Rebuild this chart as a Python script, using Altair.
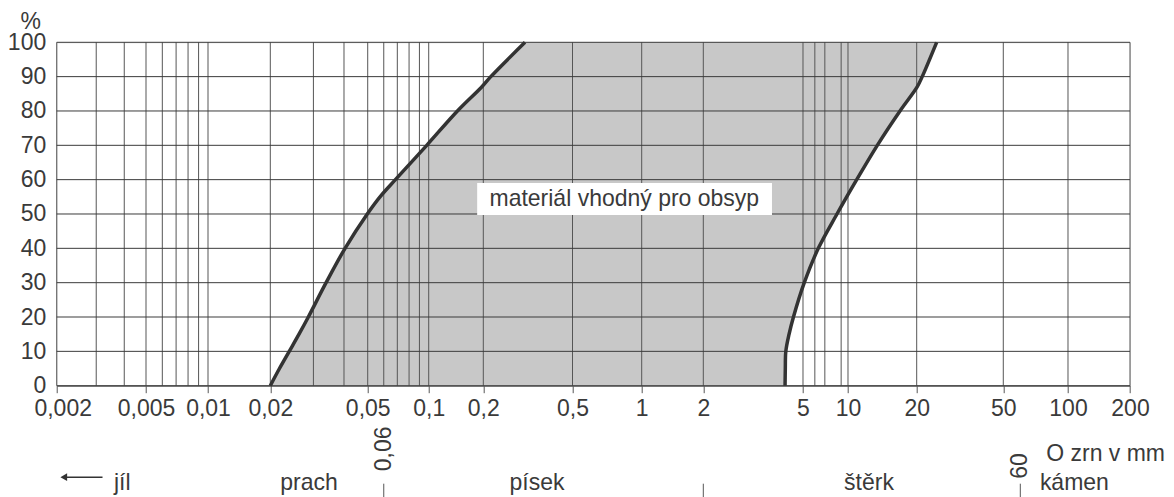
import altair as alt
import pandas as pd

# ---- data ----
pct_levels   = [0, 5, 10, 15, 20, 30, 40, 50, 55, 60, 70, 80, 87, 90, 100]
fine_limit   = [0.02, 0.0218, 0.0239, 0.0262, 0.0286, 0.0338, 0.0404, 0.0498, 0.0575, 0.0685, 0.0978, 0.1440, 0.196, 0.216, 0.307]
coarse_limit = [4.24, 4.25, 4.27, 4.40, 4.58, 5.10, 6.33, 8.44, 9.80, 10.92, 13.44, 16.9, 20.1, 21.2, 24.7]

x_ticks       = [0.002, 0.005, 0.01, 0.02, 0.05, 0.1, 0.2, 0.5, 1, 2, 5, 10, 20, 50, 100, 200]
x_tick_labels = ["0,002", "0,005", "0,01", "0,02", "0,05", "0,1", "0,2", "0,5", "1", "2", "5", "10", "20", "50", "100", "200"]
x_minor       = [0.003, 0.004, 0.006, 0.007, 0.008, 0.009, 0.03, 0.04, 0.06, 0.07, 0.08, 0.09, 6, 7, 9]
y_ticks       = [0, 10, 20, 30, 40, 50, 60, 70, 80, 90, 100]

class_names  = ["jíl", "prach", "písek", "štěrk", "kámen"]
class_x      = [0.0036, 0.0288, 0.347, 12.36, 74]
class_align  = ["left", "center", "center", "center", "left"]
class_bounds = [0.06, 2, 60]
bound_labels = ["0,06", "", "60"]
bound_label_y = [-18.4, -18.4, -23.4]   # % units, below the axis

area_label = "materiál vhodný pro obsyp"
axis_unit  = "O zrn v mm"

# ---- layout (non-uniform printed grain-size axis) ----
x_scale_px = [0, 89.3, 151.3, 213.6, 311, 372, 426.6, 515.8, 585, 646.6,
              746.3, 791.3, 860, 946.6, 1011.3, 1073.3]
W, H = 1073.3, 343.4
FONT = "Liberation Sans"
TXT = "#3a3a3a"
FS = 23

xs = alt.Scale(type="log", domain=x_ticks, range=x_scale_px, nice=False)
ys = alt.Scale(domain=[0, 100], nice=False, zero=False)

label_expr = " : ".join(
    f"datum.value == {v} ? '{l}'" for v, l in zip(x_ticks, x_tick_labels)
) + " : ''"

y_axis = alt.Axis(values=y_ticks, title=None, grid=False, ticks=False, domain=False,
                  labelFontSize=FS, labelFont=FONT, labelColor=TXT, labelPadding=11,
                  labelOverlap=False, labelBound=False, labelFlush=False)
x_axis = alt.Axis(values=x_ticks, labelExpr=label_expr, title=None, grid=False,
                  tickSize=7, tickColor="#555", domainColor="#555",
                  labelFontSize=FS, labelFont=FONT, labelColor=TXT, labelPadding=5,
                  labelOffset={"condition": {"test": "datum.value == 0.002", "value": 6}, "value": 0},
                  labelFlush=False, labelOverlap=False, labelBound=False)


def X(field):
    return alt.X(field, scale=xs, axis=x_axis)


def Y(field):
    return alt.Y(field, scale=ys, axis=y_axis)


curves = pd.DataFrame({"pct": pct_levels, "fine": fine_limit, "coarse": coarse_limit})
grid_v = pd.DataFrame({"x": x_ticks + x_minor})
grid_h = pd.DataFrame({"y": y_ticks})
classes = pd.DataFrame({"name": class_names, "x": class_x, "align": class_align})
bounds = pd.DataFrame({"x": class_bounds, "label": bound_labels, "ly": bound_label_y})

base = alt.Chart(curves)

fill = base.mark_area(orient="horizontal", color="#c8c8c8", interpolate="catmull-rom").encode(
    y=Y("pct:Q"), x=X("fine:Q"), x2="coarse:Q")

vlines = alt.Chart(grid_v).mark_rule(color="#555", strokeWidth=1).encode(x=X("x:Q"))
hlines = alt.Chart(grid_h).mark_rule(color="#3a3a3a", strokeWidth=1).encode(y=Y("y:Q"))

box = alt.Chart(pd.DataFrame({"x": [0.185], "x2": [3.76], "y": [49.7], "y2": [59.0]})).mark_rect(
    color="white").encode(x=X("x:Q"), x2="x2:Q", y=Y("y:Q"), y2="y2:Q")

label = alt.Chart(pd.DataFrame({"t": [area_label], "x": [0.84], "y": [54.4]})).mark_text(
    font=FONT, fontSize=FS, color=TXT, align="center", baseline="middle").encode(
    x=X("x:Q"), y=Y("y:Q"), text="t:N")

line_fine = base.mark_line(color="#333", strokeWidth=3.5, interpolate="catmull-rom").encode(
    x=X("fine:Q"), y=Y("pct:Q"), order="pct:Q")
line_coarse = base.mark_line(color="#333", strokeWidth=3.5, interpolate="catmull-rom").encode(
    x=X("coarse:Q"), y=Y("pct:Q"), order="pct:Q")

pct_sign = alt.Chart(pd.DataFrame({"t": ["%"], "x": [0.002], "y": [100]})).mark_text(
    font=FONT, fontSize=FS, color=TXT, align="center", baseline="middle", dx=-26, dy=-20).encode(
    x=X("x:Q"), y=Y("y:Q"), text="t:N")

unit = alt.Chart(pd.DataFrame({"t": [axis_unit], "x": [200], "y": [-19.9]})).mark_text(
    font=FONT, fontSize=FS, color=TXT, align="right", baseline="middle", dx=35).encode(
    x=X("x:Q"), y=Y("y:Q"), text="t:N")

cls_left = alt.Chart(classes).transform_filter("datum.align == 'left'").mark_text(
    font=FONT, fontSize=FS, color=TXT, align="left", baseline="alphabetic").encode(
    x=X("x:Q"), y=alt.value(H + 104.5), text="name:N")
cls_center = alt.Chart(classes).transform_filter("datum.align == 'center'").mark_text(
    font=FONT, fontSize=FS, color=TXT, align="center", baseline="alphabetic").encode(
    x=X("x:Q"), y=alt.value(H + 104.5), text="name:N")

bound_ticks = alt.Chart(bounds).mark_rule(color="#555", strokeWidth=1).encode(
    x=X("x:Q"), y=alt.value(H + 98), y2=alt.value(H + 112))
bound_text = alt.Chart(bounds).mark_text(
    font=FONT, fontSize=FS, color=TXT, align="center", baseline="middle", angle=270).encode(
    x=X("x:Q"), y=Y("ly:Q"), text="label:N")

arrow_line = alt.Chart(pd.DataFrame({"x": [0.0032], "x2": [0.00215]})).mark_rule(
    color="#333", strokeWidth=1.5).encode(
    x=X("x:Q"), x2="x2:Q", y=alt.value(H + 91.5))
arrow_head = alt.Chart(pd.DataFrame({"x": [0.00215]})).mark_point(
    shape="triangle-left", filled=True, color="#333", size=60, opacity=1).encode(
    x=X("x:Q"), y=alt.value(H + 91.5))

chart = alt.layer(
    fill, vlines, hlines, box, label, line_fine, line_coarse, pct_sign, unit,
    cls_left, cls_center, bound_ticks, bound_text, arrow_line, arrow_head
).properties(
    width=W, height=H,
    padding={"left": 48.7, "top": 34.3, "right": 36, "bottom": 111},
    autosize=alt.AutoSizeParams(type="none"),
).configure_view(stroke="#555", strokeWidth=1).configure(background="white")

chart.save("out.html", embed_options={"renderer": "svg", "actions": False})
